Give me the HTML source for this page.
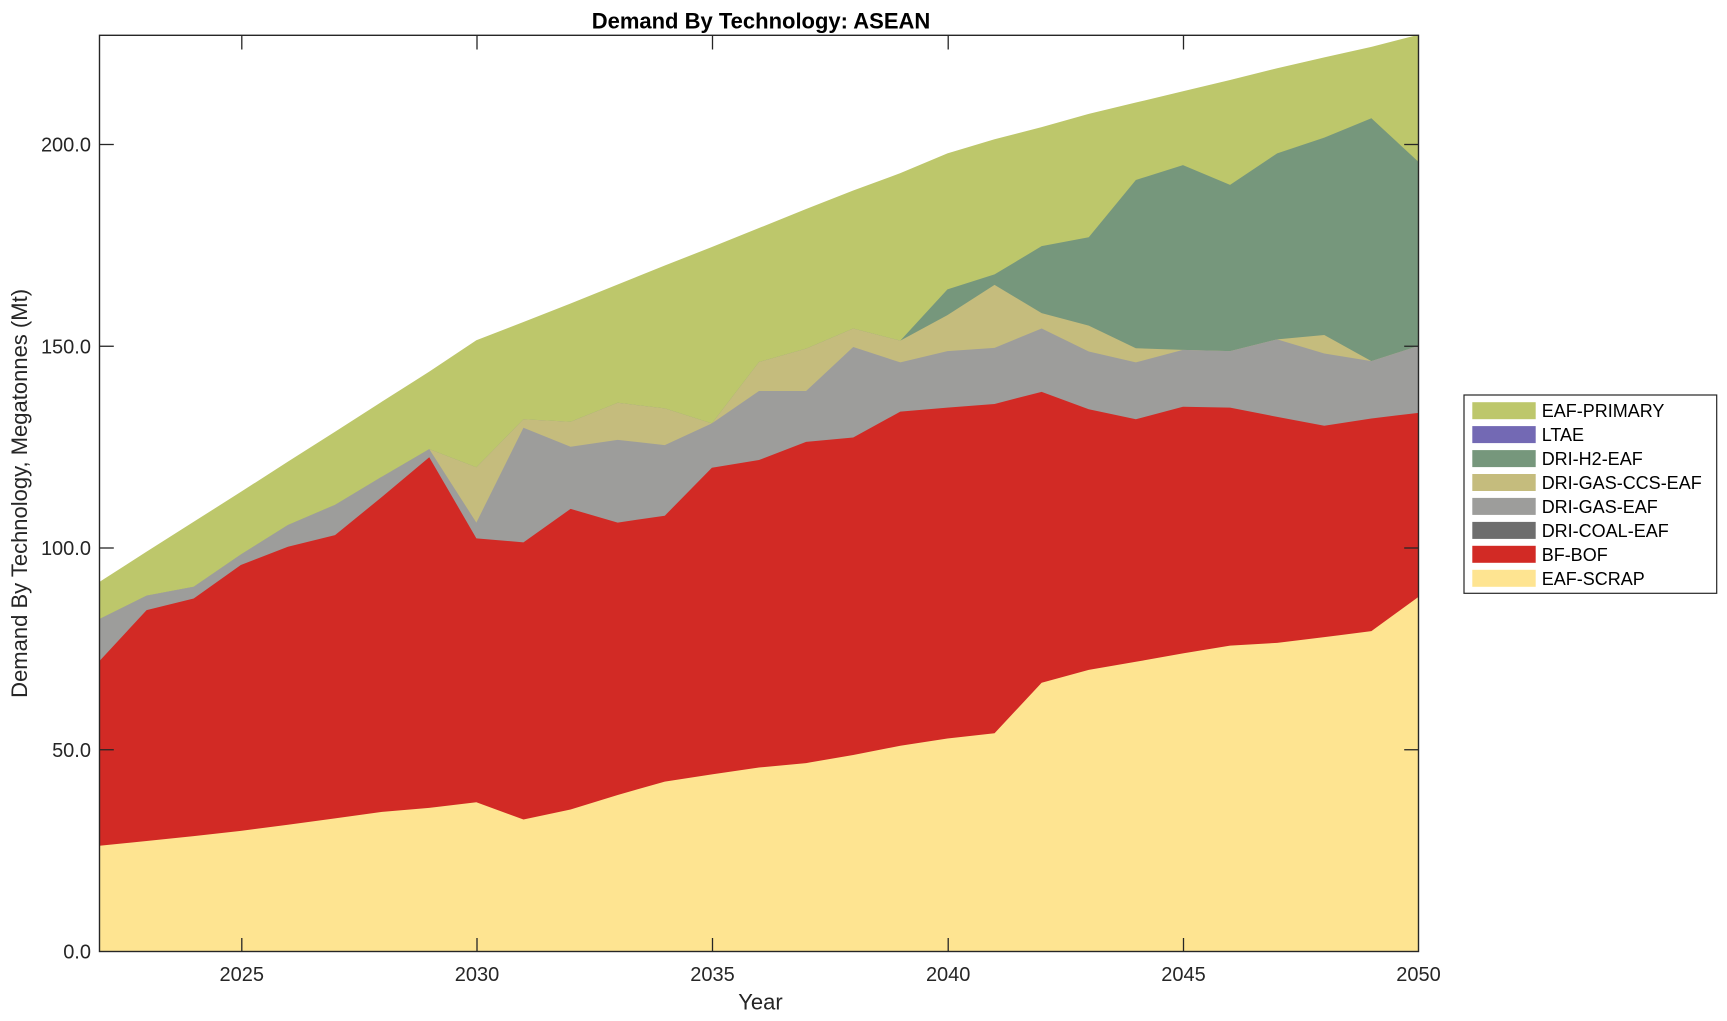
<!DOCTYPE html>
<html>
<head>
<meta charset="utf-8">
<style>
  html, body { margin:0; padding:0; background:#ffffff; }
  svg { display:block; }
  text { font-family: "Liberation Sans", Arial, sans-serif; fill:#262626; }
</style>
</head>
<body>
<svg width="1727" height="1021" viewBox="0 0 1727 1021" xmlns="http://www.w3.org/2000/svg">
  <rect x="0" y="0" width="1727" height="1021" fill="#ffffff"/>
  <defs>
    <clipPath id="plotclip">
      <rect x="99.5" y="35.3" width="1319" height="916.2"/>
    </clipPath>
  </defs>

  <g clip-path="url(#plotclip)">
    <g transform="translate(99.5 951.5) scale(47.107 -4.035)">
      <!-- EAF-PRIMARY (total) -->
      <polygon fill="#BDC76B" points="0,91.6 1,99.1 2,106.5 3,113.9 4,121.4 5,128.8 6,136.3 7,143.7 8,151.5 9,156.0 10,160.6 11,165.3 12,170.0 13,174.6 14,179.3 15,184.0 16,188.6 17,192.9 18,197.8 19,201.3 20,204.3 21,207.6 22,210.4 23,213.2 24,216.0 25,218.9 26,221.6 27,224.2 28,227.2 28,0 0,0"/>
      <!-- DRI-H2-EAF -->
      <polygon fill="#76977C" points="0,82.4 1,88.2 2,90.4 3,98.4 4,105.7 5,110.7 6,117.7 7,124.5 8,120.0 9,131.9 10,131.3 11,136.0 12,134.6 13,130.9 14,146.1 15,149.4 16,154.4 17,151.4 18,164.1 19,167.8 20,174.8 21,177.0 22,191.2 23,194.9 24,190.0 25,197.8 26,201.7 27,206.5 28,195.7 28,0 0,0"/>
      <!-- DRI-GAS-CCS-EAF -->
      <polygon fill="#C5BC7D" points="0,82.4 1,88.2 2,90.4 3,98.4 4,105.7 5,110.7 6,117.7 7,124.5 8,120.0 9,131.9 10,131.3 11,136.0 12,134.6 13,130.9 14,146.1 15,149.4 16,154.4 17,151.4 18,157.7 19,165.2 20,158.2 21,155.1 22,149.5 23,149.1 24,148.8 25,151.7 26,152.8 27,146.3 28,150.1 28,0 0,0"/>
      <!-- DRI-GAS-EAF -->
      <polygon fill="#9D9D9B" points="0,82.4 1,88.2 2,90.4 3,98.4 4,105.7 5,110.7 6,117.7 7,124.5 8,106.3 9,129.8 10,125.1 11,126.8 12,125.5 13,130.9 14,138.9 15,138.9 16,149.8 17,146.0 18,148.8 19,149.6 20,154.4 21,148.7 22,146.0 23,149.1 24,148.8 25,151.7 26,148.2 27,146.3 28,150.1 28,0 0,0"/>
      <!-- BF-BOF -->
      <polygon fill="#D22A25" points="0,72.0 1,84.6 2,87.5 3,95.8 4,100.3 5,103.2 6,112.7 7,122.5 8,102.4 9,101.4 10,109.7 11,106.3 12,108.0 13,119.9 14,121.8 15,126.3 16,127.4 17,133.8 18,134.8 19,135.7 20,138.7 21,134.4 22,131.9 23,135.0 24,134.8 25,132.5 26,130.3 27,132.1 28,133.5 28,0 0,0"/>
      <!-- EAF-SCRAP -->
      <polygon fill="#FEE491" points="0,26.2 1,27.4 2,28.6 3,29.9 4,31.4 5,33.0 6,34.6 7,35.6 8,37.0 9,32.7 10,35.2 11,38.8 12,42.1 13,43.9 14,45.6 15,46.7 16,48.7 17,51.0 18,52.8 19,54.1 20,66.6 21,69.8 22,71.8 23,73.9 24,75.8 25,76.5 26,77.9 27,79.4 28,87.9 28,0 0,0"/>
    </g>
  </g>

  <!-- Axes box -->
  <rect x="99.5" y="35.3" width="1319" height="916.2" fill="none" stroke="#262626" stroke-width="1.4"/>

  <!-- X ticks -->
  <g stroke="#262626" stroke-width="1.3">
    <line x1="241.8" y1="951.5" x2="241.8" y2="938"/>
    <line x1="477.0" y1="951.5" x2="477.0" y2="938"/>
    <line x1="712.5" y1="951.5" x2="712.5" y2="938"/>
    <line x1="948.2" y1="951.5" x2="948.2" y2="938"/>
    <line x1="1183.5" y1="951.5" x2="1183.5" y2="938"/>
    <line x1="241.8" y1="35.3" x2="241.8" y2="49.5"/>
    <line x1="477.0" y1="35.3" x2="477.0" y2="49.5"/>
    <line x1="712.5" y1="35.3" x2="712.5" y2="49.5"/>
    <line x1="948.2" y1="35.3" x2="948.2" y2="49.5"/>
    <line x1="1183.5" y1="35.3" x2="1183.5" y2="49.5"/>
    <!-- Y ticks -->
    <line x1="99.5" y1="749.75" x2="113.8" y2="749.75"/>
    <line x1="99.5" y1="548" x2="113.8" y2="548"/>
    <line x1="99.5" y1="346.25" x2="113.8" y2="346.25"/>
    <line x1="99.5" y1="144.5" x2="113.8" y2="144.5"/>
    <line x1="1418.5" y1="749.75" x2="1404.2" y2="749.75"/>
    <line x1="1418.5" y1="548" x2="1404.2" y2="548"/>
    <line x1="1418.5" y1="346.25" x2="1404.2" y2="346.25"/>
    <line x1="1418.5" y1="144.5" x2="1404.2" y2="144.5"/>
  </g>

  <!-- X tick labels -->
  <g font-size="20" text-anchor="middle">
    <text x="241.8" y="981">2025</text>
    <text x="477.0" y="981">2030</text>
    <text x="712.5" y="981">2035</text>
    <text x="948.2" y="981">2040</text>
    <text x="1183.5" y="981">2045</text>
    <text x="1418.5" y="981">2050</text>
  </g>

  <!-- Y tick labels -->
  <g font-size="20" text-anchor="end">
    <text x="91" y="958.7">0.0</text>
    <text x="91" y="757">50.0</text>
    <text x="91" y="555.2">100.0</text>
    <text x="91" y="353.5">150.0</text>
    <text x="91" y="151.7">200.0</text>
  </g>

  <!-- Axis labels -->
  <text x="760.5" y="1009.3" font-size="22" text-anchor="middle">Year</text>
  <text transform="translate(27 493.4) rotate(-90)" font-size="22" text-anchor="middle">Demand By Technology, Megatonnes (Mt)</text>

  <!-- Title -->
  <text x="761" y="28.3" font-size="22" font-weight="bold" text-anchor="middle" fill="#000000" style="fill:#000000">Demand By Technology: ASEAN</text>

  <!-- Legend -->
  <rect x="1464" y="395" width="252.7" height="198.3" fill="#ffffff" stroke="#262626" stroke-width="1.2"/>
  <g>
    <rect x="1472.3" y="402.2" width="63.4" height="17" fill="#BDC76B"/>
    <rect x="1472.3" y="426.1" width="63.4" height="17" fill="#7369B4"/>
    <rect x="1472.3" y="450.1" width="63.4" height="17" fill="#76977C"/>
    <rect x="1472.3" y="474.0" width="63.4" height="17" fill="#C5BC7D"/>
    <rect x="1472.3" y="497.9" width="63.4" height="17" fill="#9D9D9B"/>
    <rect x="1472.3" y="521.9" width="63.4" height="17" fill="#6E6E6E"/>
    <rect x="1472.3" y="545.8" width="63.4" height="17" fill="#D22A25"/>
    <rect x="1472.3" y="569.8" width="63.4" height="17" fill="#FEE491"/>
  </g>
  <g font-size="18" fill="#000000" style="fill:#000000">
    <text x="1541.7" y="417.2" style="fill:#000">EAF-PRIMARY</text>
    <text x="1541.7" y="441.1" style="fill:#000">LTAE</text>
    <text x="1541.7" y="465.1" style="fill:#000">DRI-H2-EAF</text>
    <text x="1541.7" y="489.0" style="fill:#000">DRI-GAS-CCS-EAF</text>
    <text x="1541.7" y="512.9" style="fill:#000">DRI-GAS-EAF</text>
    <text x="1541.7" y="536.9" style="fill:#000">DRI-COAL-EAF</text>
    <text x="1541.7" y="560.8" style="fill:#000">BF-BOF</text>
    <text x="1541.7" y="584.8" style="fill:#000">EAF-SCRAP</text>
  </g>
</svg>
</body>
</html>
